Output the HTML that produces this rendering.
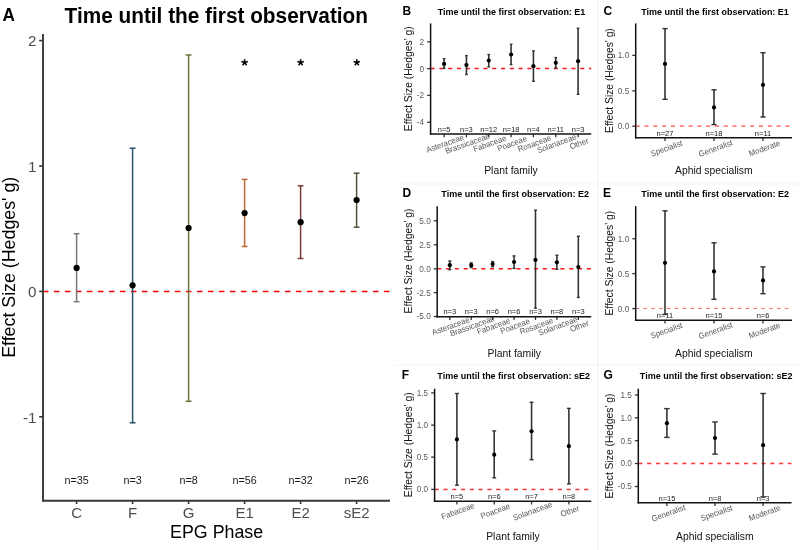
<!DOCTYPE html>
<html><head><meta charset="utf-8"><style>
html,body{margin:0;padding:0;background:#fff;}
body{width:800px;height:550px;overflow:hidden;}
svg{display:block;will-change:transform;font-family:"Liberation Sans", sans-serif;}
</style></head><body>
<svg width="800" height="550" viewBox="0 0 800 550">
<rect x="0" y="0" width="800" height="550" fill="#fff"/>
<line x1="598" y1="0" x2="598" y2="550" stroke="#f0f0f0" stroke-width="1"/>
<line x1="395" y1="184" x2="800" y2="184" stroke="#f3f3f3" stroke-width="1"/>
<line x1="395" y1="365" x2="800" y2="365" stroke="#f3f3f3" stroke-width="1"/>
<text font-size="17.2" text-anchor="start" font-weight="bold" fill="#000" transform="translate(2.40 21.00) scale(1.0 1.06)" >A</text>
<text font-size="20.8" text-anchor="middle" font-weight="bold" fill="#000" transform="translate(216.30 22.70) scale(1.0 1.06)" >Time until the first observation</text>
<line x1="42.90" y1="291.50" x2="389.70" y2="291.50" stroke="#ff0000" stroke-width="1.7" stroke-dasharray="5.55 5.45"/>
<line x1="39.20" y1="40.60" x2="43.00" y2="40.60" stroke="#333" stroke-width="1.6" />
<text font-size="15.2" text-anchor="end" fill="#4d4d4d" transform="translate(36.40 46.30) scale(1.0 1.0)" >2</text>
<line x1="39.20" y1="166.00" x2="43.00" y2="166.00" stroke="#333" stroke-width="1.6" />
<text font-size="15.2" text-anchor="end" fill="#4d4d4d" transform="translate(36.40 171.70) scale(1.0 1.0)" >1</text>
<line x1="39.20" y1="291.40" x2="43.00" y2="291.40" stroke="#333" stroke-width="1.6" />
<text font-size="15.2" text-anchor="end" fill="#4d4d4d" transform="translate(36.40 297.10) scale(1.0 1.0)" >0</text>
<line x1="39.20" y1="416.80" x2="43.00" y2="416.80" stroke="#333" stroke-width="1.6" />
<text font-size="15.2" text-anchor="end" fill="#4d4d4d" transform="translate(36.40 422.50) scale(1.0 1.0)" >-1</text>
<line x1="76.60" y1="233.70" x2="76.60" y2="301.70" stroke="#777777" stroke-width="1.5" />
<line x1="73.70" y1="233.70" x2="79.50" y2="233.70" stroke="#777777" stroke-width="1.5" />
<line x1="73.70" y1="301.70" x2="79.50" y2="301.70" stroke="#777777" stroke-width="1.5" />
<circle cx="76.60" cy="267.90" r="3.1" fill="#000"/>
<line x1="132.60" y1="148.20" x2="132.60" y2="422.80" stroke="#29506a" stroke-width="1.5" />
<line x1="129.70" y1="148.20" x2="135.50" y2="148.20" stroke="#29506a" stroke-width="1.5" />
<line x1="129.70" y1="422.80" x2="135.50" y2="422.80" stroke="#29506a" stroke-width="1.5" />
<circle cx="132.60" cy="285.30" r="3.1" fill="#000"/>
<line x1="188.60" y1="55.00" x2="188.60" y2="401.30" stroke="#68733f" stroke-width="1.5" />
<line x1="185.70" y1="55.00" x2="191.50" y2="55.00" stroke="#68733f" stroke-width="1.5" />
<line x1="185.70" y1="401.30" x2="191.50" y2="401.30" stroke="#68733f" stroke-width="1.5" />
<circle cx="188.60" cy="228.00" r="3.1" fill="#000"/>
<line x1="244.60" y1="179.40" x2="244.60" y2="246.50" stroke="#bb6835" stroke-width="1.5" />
<line x1="241.70" y1="179.40" x2="247.50" y2="179.40" stroke="#bb6835" stroke-width="1.5" />
<line x1="241.70" y1="246.50" x2="247.50" y2="246.50" stroke="#bb6835" stroke-width="1.5" />
<circle cx="244.60" cy="213.10" r="3.1" fill="#000"/>
<line x1="300.60" y1="185.80" x2="300.60" y2="258.50" stroke="#7a3c34" stroke-width="1.5" />
<line x1="297.70" y1="185.80" x2="303.50" y2="185.80" stroke="#7a3c34" stroke-width="1.5" />
<line x1="297.70" y1="258.50" x2="303.50" y2="258.50" stroke="#7a3c34" stroke-width="1.5" />
<circle cx="300.60" cy="222.20" r="3.1" fill="#000"/>
<line x1="356.60" y1="173.20" x2="356.60" y2="227.20" stroke="#4f5337" stroke-width="1.5" />
<line x1="353.70" y1="173.20" x2="359.50" y2="173.20" stroke="#4f5337" stroke-width="1.5" />
<line x1="353.70" y1="227.20" x2="359.50" y2="227.20" stroke="#4f5337" stroke-width="1.5" />
<circle cx="356.60" cy="200.00" r="3.1" fill="#000"/>
<path d="M244.60 62.60L244.60 59.25M244.60 62.60L247.79 61.56M244.60 62.60L241.41 61.56M244.60 62.60L242.63 65.31M244.60 62.60L246.57 65.31" stroke="#000" stroke-width="1.55" fill="none"/>
<path d="M300.60 62.60L300.60 59.25M300.60 62.60L303.79 61.56M300.60 62.60L297.41 61.56M300.60 62.60L298.63 65.31M300.60 62.60L302.57 65.31" stroke="#000" stroke-width="1.55" fill="none"/>
<path d="M356.80 62.60L356.80 59.25M356.80 62.60L359.99 61.56M356.80 62.60L353.61 61.56M356.80 62.60L354.83 65.31M356.80 62.60L358.77 65.31" stroke="#000" stroke-width="1.55" fill="none"/>
<text font-size="10.8" text-anchor="middle" fill="#1a1a1a" transform="translate(76.60 484.00) scale(1.0 1.06)" >n=35</text>
<line x1="76.60" y1="500.70" x2="76.60" y2="504.00" stroke="#333" stroke-width="1.6" />
<text font-size="15.0" text-anchor="middle" fill="#4d4d4d" transform="translate(76.60 518.30) scale(1.0 1.0)" >C</text>
<text font-size="10.8" text-anchor="middle" fill="#1a1a1a" transform="translate(132.60 484.00) scale(1.0 1.06)" >n=3</text>
<line x1="132.60" y1="500.70" x2="132.60" y2="504.00" stroke="#333" stroke-width="1.6" />
<text font-size="15.0" text-anchor="middle" fill="#4d4d4d" transform="translate(132.60 518.30) scale(1.0 1.0)" >F</text>
<text font-size="10.8" text-anchor="middle" fill="#1a1a1a" transform="translate(188.60 484.00) scale(1.0 1.06)" >n=8</text>
<line x1="188.60" y1="500.70" x2="188.60" y2="504.00" stroke="#333" stroke-width="1.6" />
<text font-size="15.0" text-anchor="middle" fill="#4d4d4d" transform="translate(188.60 518.30) scale(1.0 1.0)" >G</text>
<text font-size="10.8" text-anchor="middle" fill="#1a1a1a" transform="translate(244.60 484.00) scale(1.0 1.06)" >n=56</text>
<line x1="244.60" y1="500.70" x2="244.60" y2="504.00" stroke="#333" stroke-width="1.6" />
<text font-size="15.0" text-anchor="middle" fill="#4d4d4d" transform="translate(244.60 518.30) scale(1.0 1.0)" >E1</text>
<text font-size="10.8" text-anchor="middle" fill="#1a1a1a" transform="translate(300.60 484.00) scale(1.0 1.06)" >n=32</text>
<line x1="300.60" y1="500.70" x2="300.60" y2="504.00" stroke="#333" stroke-width="1.6" />
<text font-size="15.0" text-anchor="middle" fill="#4d4d4d" transform="translate(300.60 518.30) scale(1.0 1.0)" >E2</text>
<text font-size="10.8" text-anchor="middle" fill="#1a1a1a" transform="translate(356.60 484.00) scale(1.0 1.06)" >n=26</text>
<line x1="356.60" y1="500.70" x2="356.60" y2="504.00" stroke="#333" stroke-width="1.6" />
<text font-size="15.0" text-anchor="middle" fill="#4d4d4d" transform="translate(356.60 518.30) scale(1.0 1.0)" >sE2</text>
<line x1="43.00" y1="34.00" x2="43.00" y2="501.50" stroke="#383838" stroke-width="1.9" />
<line x1="42.10" y1="500.70" x2="390.00" y2="500.70" stroke="#383838" stroke-width="1.9" />
<text font-size="17.8" text-anchor="middle" fill="#000" transform="translate(216.60 537.70) scale(1.0 1.06)" >EPG Phase</text>
<text x="0" y="0" font-size="17.8" text-anchor="middle" fill="#000" transform="translate(15.1 267.3) rotate(-90) scale(1 1.06)">Effect Size (Hedges' g)</text>
<text font-size="12" text-anchor="start" font-weight="bold" fill="#000" transform="translate(402.50 14.60) scale(1.0 1.06)" >B</text>
<text font-size="9" text-anchor="middle" font-weight="bold" fill="#000" transform="translate(511.50 14.50) scale(1.0 1.06)" >Time until the first observation: E1</text>
<line x1="430.60" y1="68.50" x2="591.20" y2="68.50" stroke="#ff1a1a" stroke-width="1.5" stroke-dasharray="4.1 4.7"/>
<line x1="427.20" y1="41.80" x2="430.60" y2="41.80" stroke="#333" stroke-width="1.3" />
<text font-size="8.2" text-anchor="end" fill="#5a5a5a" transform="translate(424.10 44.75) scale(1.0 1.06)" >2</text>
<line x1="427.20" y1="68.60" x2="430.60" y2="68.60" stroke="#333" stroke-width="1.3" />
<text font-size="8.2" text-anchor="end" fill="#5a5a5a" transform="translate(424.10 71.55) scale(1.0 1.06)" >0</text>
<line x1="427.20" y1="95.40" x2="430.60" y2="95.40" stroke="#333" stroke-width="1.3" />
<text font-size="8.2" text-anchor="end" fill="#5a5a5a" transform="translate(424.10 98.35) scale(1.0 1.06)" >-2</text>
<line x1="427.20" y1="122.30" x2="430.60" y2="122.30" stroke="#333" stroke-width="1.3" />
<text font-size="8.2" text-anchor="end" fill="#5a5a5a" transform="translate(424.10 125.25) scale(1.0 1.06)" >-4</text>
<line x1="444.10" y1="58.70" x2="444.10" y2="68.40" stroke="#333" stroke-width="1.6" />
<line x1="442.75" y1="58.70" x2="445.45" y2="58.70" stroke="#333" stroke-width="1.4" />
<line x1="442.75" y1="68.40" x2="445.45" y2="68.40" stroke="#333" stroke-width="1.4" />
<circle cx="444.10" cy="63.90" r="2.1" fill="#000"/>
<line x1="466.43" y1="55.60" x2="466.43" y2="74.50" stroke="#333" stroke-width="1.6" />
<line x1="465.08" y1="55.60" x2="467.78" y2="55.60" stroke="#333" stroke-width="1.4" />
<line x1="465.08" y1="74.50" x2="467.78" y2="74.50" stroke="#333" stroke-width="1.4" />
<circle cx="466.43" cy="65.00" r="2.1" fill="#000"/>
<line x1="488.76" y1="54.50" x2="488.76" y2="66.80" stroke="#333" stroke-width="1.6" />
<line x1="487.41" y1="54.50" x2="490.11" y2="54.50" stroke="#333" stroke-width="1.4" />
<line x1="487.41" y1="66.80" x2="490.11" y2="66.80" stroke="#333" stroke-width="1.4" />
<circle cx="488.76" cy="60.50" r="2.1" fill="#000"/>
<line x1="511.09" y1="44.30" x2="511.09" y2="64.60" stroke="#333" stroke-width="1.6" />
<line x1="509.74" y1="44.30" x2="512.44" y2="44.30" stroke="#333" stroke-width="1.4" />
<line x1="509.74" y1="64.60" x2="512.44" y2="64.60" stroke="#333" stroke-width="1.4" />
<circle cx="511.09" cy="54.50" r="2.1" fill="#000"/>
<line x1="533.42" y1="50.90" x2="533.42" y2="81.30" stroke="#333" stroke-width="1.6" />
<line x1="532.07" y1="50.90" x2="534.77" y2="50.90" stroke="#333" stroke-width="1.4" />
<line x1="532.07" y1="81.30" x2="534.77" y2="81.30" stroke="#333" stroke-width="1.4" />
<circle cx="533.42" cy="66.20" r="2.1" fill="#000"/>
<line x1="555.75" y1="57.60" x2="555.75" y2="68.00" stroke="#333" stroke-width="1.6" />
<line x1="554.40" y1="57.60" x2="557.10" y2="57.60" stroke="#333" stroke-width="1.4" />
<line x1="554.40" y1="68.00" x2="557.10" y2="68.00" stroke="#333" stroke-width="1.4" />
<circle cx="555.75" cy="62.80" r="2.1" fill="#000"/>
<line x1="578.08" y1="28.30" x2="578.08" y2="94.30" stroke="#333" stroke-width="1.6" />
<line x1="576.73" y1="28.30" x2="579.43" y2="28.30" stroke="#333" stroke-width="1.4" />
<line x1="576.73" y1="94.30" x2="579.43" y2="94.30" stroke="#333" stroke-width="1.4" />
<circle cx="578.08" cy="61.20" r="2.1" fill="#000"/>
<text font-size="7.5" text-anchor="middle" fill="#1a1a1a" transform="translate(444.10 131.90) scale(1.0 1.06)" >n=5</text>
<line x1="444.10" y1="134.10" x2="444.10" y2="137.30" stroke="#333" stroke-width="1.3" />
<text x="0" y="0" font-size="7.8" text-anchor="middle" fill="#555" transform="translate(445.10 143.50) rotate(-20) translate(0 2.8) scale(1 1.06)">Asteraceae</text>
<text font-size="7.5" text-anchor="middle" fill="#1a1a1a" transform="translate(466.43 131.90) scale(1.0 1.06)" >n=3</text>
<line x1="466.43" y1="134.10" x2="466.43" y2="137.30" stroke="#333" stroke-width="1.3" />
<text x="0" y="0" font-size="7.8" text-anchor="middle" fill="#555" transform="translate(467.43 143.50) rotate(-20) translate(0 2.8) scale(1 1.06)">Brassicaceae</text>
<text font-size="7.5" text-anchor="middle" fill="#1a1a1a" transform="translate(488.76 131.90) scale(1.0 1.06)" >n=12</text>
<line x1="488.76" y1="134.10" x2="488.76" y2="137.30" stroke="#333" stroke-width="1.3" />
<text x="0" y="0" font-size="7.8" text-anchor="middle" fill="#555" transform="translate(489.76 143.50) rotate(-20) translate(0 2.8) scale(1 1.06)">Fabaceae</text>
<text font-size="7.5" text-anchor="middle" fill="#1a1a1a" transform="translate(511.09 131.90) scale(1.0 1.06)" >n=18</text>
<line x1="511.09" y1="134.10" x2="511.09" y2="137.30" stroke="#333" stroke-width="1.3" />
<text x="0" y="0" font-size="7.8" text-anchor="middle" fill="#555" transform="translate(512.09 143.50) rotate(-20) translate(0 2.8) scale(1 1.06)">Poaceae</text>
<text font-size="7.5" text-anchor="middle" fill="#1a1a1a" transform="translate(533.42 131.90) scale(1.0 1.06)" >n=4</text>
<line x1="533.42" y1="134.10" x2="533.42" y2="137.30" stroke="#333" stroke-width="1.3" />
<text x="0" y="0" font-size="7.8" text-anchor="middle" fill="#555" transform="translate(534.42 143.50) rotate(-20) translate(0 2.8) scale(1 1.06)">Rosaceae</text>
<text font-size="7.5" text-anchor="middle" fill="#1a1a1a" transform="translate(555.75 131.90) scale(1.0 1.06)" >n=11</text>
<line x1="555.75" y1="134.10" x2="555.75" y2="137.30" stroke="#333" stroke-width="1.3" />
<text x="0" y="0" font-size="7.8" text-anchor="middle" fill="#555" transform="translate(556.75 143.50) rotate(-20) translate(0 2.8) scale(1 1.06)">Solanaceae</text>
<text font-size="7.5" text-anchor="middle" fill="#1a1a1a" transform="translate(578.08 131.90) scale(1.0 1.06)" >n=3</text>
<line x1="578.08" y1="134.10" x2="578.08" y2="137.30" stroke="#333" stroke-width="1.3" />
<text x="0" y="0" font-size="7.8" text-anchor="middle" fill="#555" transform="translate(579.08 143.50) rotate(-20) translate(0 2.8) scale(1 1.06)">Other</text>
<line x1="430.60" y1="23.40" x2="430.60" y2="134.80" stroke="#111" stroke-width="1.5" />
<line x1="429.90" y1="134.10" x2="591.20" y2="134.10" stroke="#111" stroke-width="1.5" />
<text font-size="10.35" text-anchor="middle" fill="#111" transform="translate(510.90 174.40) scale(1.0 1.06)" >Plant family</text>
<text x="0" y="0" font-size="10.3" text-anchor="middle" fill="#111" transform="translate(411.90 78.75) rotate(-90) scale(1 1.06)">Effect Size (Hedges' g)</text>
<text font-size="12" text-anchor="start" font-weight="bold" fill="#000" transform="translate(603.40 14.60) scale(1.0 1.06)" >C</text>
<text font-size="9" text-anchor="middle" font-weight="bold" fill="#000" transform="translate(715.00 14.50) scale(1.0 1.06)" >Time until the first observation: E1</text>
<line x1="635.70" y1="126.10" x2="792.00" y2="126.10" stroke="#ff4d4d" stroke-width="1.4" stroke-dasharray="4.1 4.7"/>
<line x1="632.30" y1="126.20" x2="635.70" y2="126.20" stroke="#333" stroke-width="1.3" />
<text font-size="8.2" text-anchor="end" fill="#5a5a5a" transform="translate(629.20 129.15) scale(1.0 1.06)" >0.0</text>
<line x1="632.30" y1="90.90" x2="635.70" y2="90.90" stroke="#333" stroke-width="1.3" />
<text font-size="8.2" text-anchor="end" fill="#5a5a5a" transform="translate(629.20 93.85) scale(1.0 1.06)" >0.5</text>
<line x1="632.30" y1="55.40" x2="635.70" y2="55.40" stroke="#333" stroke-width="1.3" />
<text font-size="8.2" text-anchor="end" fill="#5a5a5a" transform="translate(629.20 58.35) scale(1.0 1.06)" >1.0</text>
<line x1="665.00" y1="28.60" x2="665.00" y2="99.30" stroke="#333" stroke-width="1.6" />
<line x1="662.40" y1="28.60" x2="667.60" y2="28.60" stroke="#333" stroke-width="1.4" />
<line x1="662.40" y1="99.30" x2="667.60" y2="99.30" stroke="#333" stroke-width="1.4" />
<circle cx="665.00" cy="63.90" r="2.1" fill="#000"/>
<line x1="714.00" y1="89.80" x2="714.00" y2="124.60" stroke="#333" stroke-width="1.6" />
<line x1="711.40" y1="89.80" x2="716.60" y2="89.80" stroke="#333" stroke-width="1.4" />
<line x1="711.40" y1="124.60" x2="716.60" y2="124.60" stroke="#333" stroke-width="1.4" />
<circle cx="714.00" cy="107.40" r="2.1" fill="#000"/>
<line x1="763.00" y1="52.70" x2="763.00" y2="117.00" stroke="#333" stroke-width="1.6" />
<line x1="760.40" y1="52.70" x2="765.60" y2="52.70" stroke="#333" stroke-width="1.4" />
<line x1="760.40" y1="117.00" x2="765.60" y2="117.00" stroke="#333" stroke-width="1.4" />
<circle cx="763.00" cy="84.90" r="2.1" fill="#000"/>
<text font-size="7.5" text-anchor="middle" fill="#1a1a1a" transform="translate(665.00 135.60) scale(1.0 1.06)" >n=27</text>
<line x1="665.00" y1="137.70" x2="665.00" y2="140.90" stroke="#333" stroke-width="1.3" />
<text x="0" y="0" font-size="7.8" text-anchor="middle" fill="#555" transform="translate(666.50 148.30) rotate(-20) translate(0 2.8) scale(1 1.06)">Specialist</text>
<text font-size="7.5" text-anchor="middle" fill="#1a1a1a" transform="translate(714.00 135.60) scale(1.0 1.06)" >n=18</text>
<line x1="714.00" y1="137.70" x2="714.00" y2="140.90" stroke="#333" stroke-width="1.3" />
<text x="0" y="0" font-size="7.8" text-anchor="middle" fill="#555" transform="translate(715.50 148.30) rotate(-20) translate(0 2.8) scale(1 1.06)">Generalist</text>
<text font-size="7.5" text-anchor="middle" fill="#1a1a1a" transform="translate(763.00 135.60) scale(1.0 1.06)" >n=11</text>
<line x1="763.00" y1="137.70" x2="763.00" y2="140.90" stroke="#333" stroke-width="1.3" />
<text x="0" y="0" font-size="7.8" text-anchor="middle" fill="#555" transform="translate(764.50 148.30) rotate(-20) translate(0 2.8) scale(1 1.06)">Moderate</text>
<line x1="635.70" y1="23.40" x2="635.70" y2="138.40" stroke="#111" stroke-width="1.5" />
<line x1="635.00" y1="137.70" x2="792.00" y2="137.70" stroke="#111" stroke-width="1.5" />
<text font-size="10.35" text-anchor="middle" fill="#111" transform="translate(713.80 174.40) scale(1.0 1.06)" >Aphid specialism</text>
<text x="0" y="0" font-size="10.3" text-anchor="middle" fill="#111" transform="translate(612.90 80.60) rotate(-90) scale(1 1.06)">Effect Size (Hedges' g)</text>
<text font-size="12" text-anchor="start" font-weight="bold" fill="#000" transform="translate(402.40 196.80) scale(1.0 1.06)" >D</text>
<text font-size="9" text-anchor="middle" font-weight="bold" fill="#000" transform="translate(515.20 196.70) scale(1.0 1.06)" >Time until the first observation: E2</text>
<line x1="437.20" y1="268.70" x2="591.20" y2="268.70" stroke="#ff1a1a" stroke-width="1.5" stroke-dasharray="4.1 4.7"/>
<line x1="433.80" y1="220.80" x2="437.20" y2="220.80" stroke="#333" stroke-width="1.3" />
<text font-size="8.2" text-anchor="end" fill="#5a5a5a" transform="translate(430.70 223.75) scale(1.0 1.06)" >5.0</text>
<line x1="433.80" y1="244.80" x2="437.20" y2="244.80" stroke="#333" stroke-width="1.3" />
<text font-size="8.2" text-anchor="end" fill="#5a5a5a" transform="translate(430.70 247.75) scale(1.0 1.06)" >2.5</text>
<line x1="433.80" y1="268.80" x2="437.20" y2="268.80" stroke="#333" stroke-width="1.3" />
<text font-size="8.2" text-anchor="end" fill="#5a5a5a" transform="translate(430.70 271.75) scale(1.0 1.06)" >0.0</text>
<line x1="433.80" y1="292.60" x2="437.20" y2="292.60" stroke="#333" stroke-width="1.3" />
<text font-size="8.2" text-anchor="end" fill="#5a5a5a" transform="translate(430.70 295.55) scale(1.0 1.06)" >-2.5</text>
<line x1="433.80" y1="316.50" x2="437.20" y2="316.50" stroke="#333" stroke-width="1.3" />
<text font-size="8.2" text-anchor="end" fill="#5a5a5a" transform="translate(430.70 319.45) scale(1.0 1.06)" >-5.0</text>
<line x1="449.80" y1="261.00" x2="449.80" y2="269.70" stroke="#333" stroke-width="1.6" />
<line x1="448.30" y1="261.00" x2="451.30" y2="261.00" stroke="#333" stroke-width="1.4" />
<line x1="448.30" y1="269.70" x2="451.30" y2="269.70" stroke="#333" stroke-width="1.4" />
<circle cx="449.80" cy="265.20" r="2.1" fill="#000"/>
<line x1="471.22" y1="262.90" x2="471.22" y2="267.60" stroke="#333" stroke-width="1.6" />
<line x1="469.72" y1="262.90" x2="472.72" y2="262.90" stroke="#333" stroke-width="1.4" />
<line x1="469.72" y1="267.60" x2="472.72" y2="267.60" stroke="#333" stroke-width="1.4" />
<circle cx="471.22" cy="265.20" r="2.1" fill="#000"/>
<line x1="492.64" y1="261.60" x2="492.64" y2="266.70" stroke="#333" stroke-width="1.6" />
<line x1="491.14" y1="261.60" x2="494.14" y2="261.60" stroke="#333" stroke-width="1.4" />
<line x1="491.14" y1="266.70" x2="494.14" y2="266.70" stroke="#333" stroke-width="1.4" />
<circle cx="492.64" cy="264.00" r="2.1" fill="#000"/>
<line x1="514.06" y1="255.90" x2="514.06" y2="268.40" stroke="#333" stroke-width="1.6" />
<line x1="512.56" y1="255.90" x2="515.56" y2="255.90" stroke="#333" stroke-width="1.4" />
<line x1="512.56" y1="268.40" x2="515.56" y2="268.40" stroke="#333" stroke-width="1.4" />
<circle cx="514.06" cy="262.00" r="2.1" fill="#000"/>
<line x1="535.48" y1="210.20" x2="535.48" y2="308.20" stroke="#333" stroke-width="1.6" />
<line x1="533.98" y1="210.20" x2="536.98" y2="210.20" stroke="#333" stroke-width="1.4" />
<line x1="533.98" y1="308.20" x2="536.98" y2="308.20" stroke="#333" stroke-width="1.4" />
<circle cx="535.48" cy="259.90" r="2.1" fill="#000"/>
<line x1="556.90" y1="255.20" x2="556.90" y2="269.30" stroke="#333" stroke-width="1.6" />
<line x1="555.40" y1="255.20" x2="558.40" y2="255.20" stroke="#333" stroke-width="1.4" />
<line x1="555.40" y1="269.30" x2="558.40" y2="269.30" stroke="#333" stroke-width="1.4" />
<circle cx="556.90" cy="262.30" r="2.1" fill="#000"/>
<line x1="578.32" y1="236.30" x2="578.32" y2="297.40" stroke="#333" stroke-width="1.6" />
<line x1="576.82" y1="236.30" x2="579.82" y2="236.30" stroke="#333" stroke-width="1.4" />
<line x1="576.82" y1="297.40" x2="579.82" y2="297.40" stroke="#333" stroke-width="1.4" />
<circle cx="578.32" cy="267.10" r="2.1" fill="#000"/>
<text font-size="7.5" text-anchor="middle" fill="#1a1a1a" transform="translate(449.80 314.00) scale(1.0 1.06)" >n=3</text>
<line x1="449.80" y1="316.80" x2="449.80" y2="320.00" stroke="#333" stroke-width="1.3" />
<text x="0" y="0" font-size="7.8" text-anchor="middle" fill="#555" transform="translate(450.80 326.00) rotate(-20) translate(0 2.8) scale(1 1.06)">Asteraceae</text>
<text font-size="7.5" text-anchor="middle" fill="#1a1a1a" transform="translate(471.22 314.00) scale(1.0 1.06)" >n=3</text>
<line x1="471.22" y1="316.80" x2="471.22" y2="320.00" stroke="#333" stroke-width="1.3" />
<text x="0" y="0" font-size="7.8" text-anchor="middle" fill="#555" transform="translate(472.22 326.00) rotate(-20) translate(0 2.8) scale(1 1.06)">Brassicaceae</text>
<text font-size="7.5" text-anchor="middle" fill="#1a1a1a" transform="translate(492.64 314.00) scale(1.0 1.06)" >n=6</text>
<line x1="492.64" y1="316.80" x2="492.64" y2="320.00" stroke="#333" stroke-width="1.3" />
<text x="0" y="0" font-size="7.8" text-anchor="middle" fill="#555" transform="translate(493.64 326.00) rotate(-20) translate(0 2.8) scale(1 1.06)">Fabaceae</text>
<text font-size="7.5" text-anchor="middle" fill="#1a1a1a" transform="translate(514.06 314.00) scale(1.0 1.06)" >n=6</text>
<line x1="514.06" y1="316.80" x2="514.06" y2="320.00" stroke="#333" stroke-width="1.3" />
<text x="0" y="0" font-size="7.8" text-anchor="middle" fill="#555" transform="translate(515.06 326.00) rotate(-20) translate(0 2.8) scale(1 1.06)">Poaceae</text>
<text font-size="7.5" text-anchor="middle" fill="#1a1a1a" transform="translate(535.48 314.00) scale(1.0 1.06)" >n=3</text>
<line x1="535.48" y1="316.80" x2="535.48" y2="320.00" stroke="#333" stroke-width="1.3" />
<text x="0" y="0" font-size="7.8" text-anchor="middle" fill="#555" transform="translate(536.48 326.00) rotate(-20) translate(0 2.8) scale(1 1.06)">Rosaceae</text>
<text font-size="7.5" text-anchor="middle" fill="#1a1a1a" transform="translate(556.90 314.00) scale(1.0 1.06)" >n=8</text>
<line x1="556.90" y1="316.80" x2="556.90" y2="320.00" stroke="#333" stroke-width="1.3" />
<text x="0" y="0" font-size="7.8" text-anchor="middle" fill="#555" transform="translate(557.90 326.00) rotate(-20) translate(0 2.8) scale(1 1.06)">Solanaceae</text>
<text font-size="7.5" text-anchor="middle" fill="#1a1a1a" transform="translate(578.32 314.00) scale(1.0 1.06)" >n=3</text>
<line x1="578.32" y1="316.80" x2="578.32" y2="320.00" stroke="#333" stroke-width="1.3" />
<text x="0" y="0" font-size="7.8" text-anchor="middle" fill="#555" transform="translate(579.32 326.00) rotate(-20) translate(0 2.8) scale(1 1.06)">Other</text>
<line x1="437.20" y1="206.20" x2="437.20" y2="317.50" stroke="#111" stroke-width="1.5" />
<line x1="436.50" y1="316.80" x2="591.20" y2="316.80" stroke="#111" stroke-width="1.5" />
<text font-size="10.35" text-anchor="middle" fill="#111" transform="translate(514.20 357.20) scale(1.0 1.06)" >Plant family</text>
<text x="0" y="0" font-size="10.3" text-anchor="middle" fill="#111" transform="translate(411.90 261.00) rotate(-90) scale(1 1.06)">Effect Size (Hedges' g)</text>
<text font-size="12" text-anchor="start" font-weight="bold" fill="#000" transform="translate(603.10 196.80) scale(1.0 1.06)" >E</text>
<text font-size="9" text-anchor="middle" font-weight="bold" fill="#000" transform="translate(715.20 196.70) scale(1.0 1.06)" >Time until the first observation: E2</text>
<line x1="635.70" y1="308.50" x2="792.00" y2="308.50" stroke="#f26a6a" stroke-width="1.1" stroke-dasharray="3.4 4.45"/>
<line x1="632.30" y1="308.60" x2="635.70" y2="308.60" stroke="#333" stroke-width="1.3" />
<text font-size="8.2" text-anchor="end" fill="#5a5a5a" transform="translate(629.20 311.55) scale(1.0 1.06)" >0.0</text>
<line x1="632.30" y1="273.60" x2="635.70" y2="273.60" stroke="#333" stroke-width="1.3" />
<text font-size="8.2" text-anchor="end" fill="#5a5a5a" transform="translate(629.20 276.55) scale(1.0 1.06)" >0.5</text>
<line x1="632.30" y1="238.70" x2="635.70" y2="238.70" stroke="#333" stroke-width="1.3" />
<text font-size="8.2" text-anchor="end" fill="#5a5a5a" transform="translate(629.20 241.65) scale(1.0 1.06)" >1.0</text>
<line x1="665.00" y1="210.80" x2="665.00" y2="314.40" stroke="#333" stroke-width="1.6" />
<line x1="662.40" y1="210.80" x2="667.60" y2="210.80" stroke="#333" stroke-width="1.4" />
<line x1="662.40" y1="314.40" x2="667.60" y2="314.40" stroke="#333" stroke-width="1.4" />
<circle cx="665.00" cy="262.80" r="2.1" fill="#000"/>
<line x1="714.00" y1="242.80" x2="714.00" y2="299.30" stroke="#333" stroke-width="1.6" />
<line x1="711.40" y1="242.80" x2="716.60" y2="242.80" stroke="#333" stroke-width="1.4" />
<line x1="711.40" y1="299.30" x2="716.60" y2="299.30" stroke="#333" stroke-width="1.4" />
<circle cx="714.00" cy="271.40" r="2.1" fill="#000"/>
<line x1="763.00" y1="266.90" x2="763.00" y2="293.70" stroke="#333" stroke-width="1.6" />
<line x1="760.40" y1="266.90" x2="765.60" y2="266.90" stroke="#333" stroke-width="1.4" />
<line x1="760.40" y1="293.70" x2="765.60" y2="293.70" stroke="#333" stroke-width="1.4" />
<circle cx="763.00" cy="280.40" r="2.1" fill="#000"/>
<text font-size="7.5" text-anchor="middle" fill="#1a1a1a" transform="translate(665.00 318.00) scale(1.0 1.06)" >n=11</text>
<line x1="665.00" y1="320.20" x2="665.00" y2="323.40" stroke="#333" stroke-width="1.3" />
<text x="0" y="0" font-size="7.8" text-anchor="middle" fill="#555" transform="translate(666.50 330.50) rotate(-20) translate(0 2.8) scale(1 1.06)">Specialist</text>
<text font-size="7.5" text-anchor="middle" fill="#1a1a1a" transform="translate(714.00 318.00) scale(1.0 1.06)" >n=15</text>
<line x1="714.00" y1="320.20" x2="714.00" y2="323.40" stroke="#333" stroke-width="1.3" />
<text x="0" y="0" font-size="7.8" text-anchor="middle" fill="#555" transform="translate(715.50 330.50) rotate(-20) translate(0 2.8) scale(1 1.06)">Generalist</text>
<text font-size="7.5" text-anchor="middle" fill="#1a1a1a" transform="translate(763.00 318.00) scale(1.0 1.06)" >n=6</text>
<line x1="763.00" y1="320.20" x2="763.00" y2="323.40" stroke="#333" stroke-width="1.3" />
<text x="0" y="0" font-size="7.8" text-anchor="middle" fill="#555" transform="translate(764.50 330.50) rotate(-20) translate(0 2.8) scale(1 1.06)">Moderate</text>
<line x1="635.70" y1="206.10" x2="635.70" y2="320.90" stroke="#111" stroke-width="1.5" />
<line x1="635.00" y1="320.20" x2="792.00" y2="320.20" stroke="#111" stroke-width="1.5" />
<text font-size="10.35" text-anchor="middle" fill="#111" transform="translate(713.80 356.90) scale(1.0 1.06)" >Aphid specialism</text>
<text x="0" y="0" font-size="10.3" text-anchor="middle" fill="#111" transform="translate(612.90 263.20) rotate(-90) scale(1 1.06)">Effect Size (Hedges' g)</text>
<text font-size="12" text-anchor="start" font-weight="bold" fill="#000" transform="translate(401.80 379.20) scale(1.0 1.06)" >F</text>
<text font-size="9" text-anchor="middle" font-weight="bold" fill="#000" transform="translate(513.70 379.10) scale(1.0 1.06)" >Time until the first observation: sE2</text>
<line x1="434.60" y1="489.60" x2="591.20" y2="489.60" stroke="#ff3535" stroke-width="1.5" stroke-dasharray="4.1 4.7"/>
<line x1="431.20" y1="489.40" x2="434.60" y2="489.40" stroke="#333" stroke-width="1.3" />
<text font-size="8.2" text-anchor="end" fill="#5a5a5a" transform="translate(428.10 492.35) scale(1.0 1.06)" >0.0</text>
<line x1="431.20" y1="457.10" x2="434.60" y2="457.10" stroke="#333" stroke-width="1.3" />
<text font-size="8.2" text-anchor="end" fill="#5a5a5a" transform="translate(428.10 460.05) scale(1.0 1.06)" >0.5</text>
<line x1="431.20" y1="425.10" x2="434.60" y2="425.10" stroke="#333" stroke-width="1.3" />
<text font-size="8.2" text-anchor="end" fill="#5a5a5a" transform="translate(428.10 428.05) scale(1.0 1.06)" >1.0</text>
<line x1="431.20" y1="392.90" x2="434.60" y2="392.90" stroke="#333" stroke-width="1.3" />
<text font-size="8.2" text-anchor="end" fill="#5a5a5a" transform="translate(428.10 395.85) scale(1.0 1.06)" >1.5</text>
<line x1="456.90" y1="393.50" x2="456.90" y2="485.20" stroke="#333" stroke-width="1.6" />
<line x1="454.95" y1="393.50" x2="458.85" y2="393.50" stroke="#333" stroke-width="1.4" />
<line x1="454.95" y1="485.20" x2="458.85" y2="485.20" stroke="#333" stroke-width="1.4" />
<circle cx="456.90" cy="439.40" r="2.1" fill="#000"/>
<line x1="494.23" y1="430.90" x2="494.23" y2="477.80" stroke="#333" stroke-width="1.6" />
<line x1="492.28" y1="430.90" x2="496.18" y2="430.90" stroke="#333" stroke-width="1.4" />
<line x1="492.28" y1="477.80" x2="496.18" y2="477.80" stroke="#333" stroke-width="1.4" />
<circle cx="494.23" cy="454.70" r="2.1" fill="#000"/>
<line x1="531.56" y1="402.30" x2="531.56" y2="459.70" stroke="#333" stroke-width="1.6" />
<line x1="529.61" y1="402.30" x2="533.51" y2="402.30" stroke="#333" stroke-width="1.4" />
<line x1="529.61" y1="459.70" x2="533.51" y2="459.70" stroke="#333" stroke-width="1.4" />
<circle cx="531.56" cy="431.30" r="2.1" fill="#000"/>
<line x1="568.89" y1="408.40" x2="568.89" y2="483.90" stroke="#333" stroke-width="1.6" />
<line x1="566.94" y1="408.40" x2="570.84" y2="408.40" stroke="#333" stroke-width="1.4" />
<line x1="566.94" y1="483.90" x2="570.84" y2="483.90" stroke="#333" stroke-width="1.4" />
<circle cx="568.89" cy="446.20" r="2.1" fill="#000"/>
<text font-size="7.5" text-anchor="middle" fill="#1a1a1a" transform="translate(456.90 499.00) scale(1.0 1.06)" >n=5</text>
<line x1="456.90" y1="501.30" x2="456.90" y2="504.50" stroke="#333" stroke-width="1.3" />
<text x="0" y="0" font-size="7.8" text-anchor="middle" fill="#555" transform="translate(457.90 511.00) rotate(-20) translate(0 2.8) scale(1 1.06)">Fabaceae</text>
<text font-size="7.5" text-anchor="middle" fill="#1a1a1a" transform="translate(494.23 499.00) scale(1.0 1.06)" >n=6</text>
<line x1="494.23" y1="501.30" x2="494.23" y2="504.50" stroke="#333" stroke-width="1.3" />
<text x="0" y="0" font-size="7.8" text-anchor="middle" fill="#555" transform="translate(495.23 511.00) rotate(-20) translate(0 2.8) scale(1 1.06)">Poaceae</text>
<text font-size="7.5" text-anchor="middle" fill="#1a1a1a" transform="translate(531.56 499.00) scale(1.0 1.06)" >n=7</text>
<line x1="531.56" y1="501.30" x2="531.56" y2="504.50" stroke="#333" stroke-width="1.3" />
<text x="0" y="0" font-size="7.8" text-anchor="middle" fill="#555" transform="translate(532.56 511.00) rotate(-20) translate(0 2.8) scale(1 1.06)">Solanaceae</text>
<text font-size="7.5" text-anchor="middle" fill="#1a1a1a" transform="translate(568.89 499.00) scale(1.0 1.06)" >n=8</text>
<line x1="568.89" y1="501.30" x2="568.89" y2="504.50" stroke="#333" stroke-width="1.3" />
<text x="0" y="0" font-size="7.8" text-anchor="middle" fill="#555" transform="translate(569.89 511.00) rotate(-20) translate(0 2.8) scale(1 1.06)">Other</text>
<line x1="434.60" y1="388.70" x2="434.60" y2="502.00" stroke="#111" stroke-width="1.5" />
<line x1="433.90" y1="501.30" x2="591.20" y2="501.30" stroke="#111" stroke-width="1.5" />
<text font-size="10.35" text-anchor="middle" fill="#111" transform="translate(512.90 540.00) scale(1.0 1.06)" >Plant family</text>
<text x="0" y="0" font-size="10.3" text-anchor="middle" fill="#111" transform="translate(411.80 444.80) rotate(-90) scale(1 1.06)">Effect Size (Hedges' g)</text>
<text font-size="12" text-anchor="start" font-weight="bold" fill="#000" transform="translate(603.40 379.20) scale(1.0 1.06)" >G</text>
<text font-size="9" text-anchor="middle" font-weight="bold" fill="#000" transform="translate(716.20 379.10) scale(1.0 1.06)" >Time until the first observation: sE2</text>
<line x1="638.30" y1="463.40" x2="791.50" y2="463.40" stroke="#ff3535" stroke-width="1.5" stroke-dasharray="4.1 4.7"/>
<line x1="634.90" y1="486.50" x2="638.30" y2="486.50" stroke="#333" stroke-width="1.3" />
<text font-size="8.2" text-anchor="end" fill="#5a5a5a" transform="translate(631.80 489.45) scale(1.0 1.06)" >-0.5</text>
<line x1="634.90" y1="463.50" x2="638.30" y2="463.50" stroke="#333" stroke-width="1.3" />
<text font-size="8.2" text-anchor="end" fill="#5a5a5a" transform="translate(631.80 466.45) scale(1.0 1.06)" >0.0</text>
<line x1="634.90" y1="440.70" x2="638.30" y2="440.70" stroke="#333" stroke-width="1.3" />
<text font-size="8.2" text-anchor="end" fill="#5a5a5a" transform="translate(631.80 443.65) scale(1.0 1.06)" >0.5</text>
<line x1="634.90" y1="417.80" x2="638.30" y2="417.80" stroke="#333" stroke-width="1.3" />
<text font-size="8.2" text-anchor="end" fill="#5a5a5a" transform="translate(631.80 420.75) scale(1.0 1.06)" >1.0</text>
<line x1="634.90" y1="395.00" x2="638.30" y2="395.00" stroke="#333" stroke-width="1.3" />
<text font-size="8.2" text-anchor="end" fill="#5a5a5a" transform="translate(631.80 397.95) scale(1.0 1.06)" >1.5</text>
<line x1="666.90" y1="408.60" x2="666.90" y2="437.40" stroke="#333" stroke-width="1.6" />
<line x1="664.15" y1="408.60" x2="669.65" y2="408.60" stroke="#333" stroke-width="1.4" />
<line x1="664.15" y1="437.40" x2="669.65" y2="437.40" stroke="#333" stroke-width="1.4" />
<circle cx="666.90" cy="423.20" r="2.1" fill="#000"/>
<line x1="715.00" y1="422.00" x2="715.00" y2="454.10" stroke="#333" stroke-width="1.6" />
<line x1="712.25" y1="422.00" x2="717.75" y2="422.00" stroke="#333" stroke-width="1.4" />
<line x1="712.25" y1="454.10" x2="717.75" y2="454.10" stroke="#333" stroke-width="1.4" />
<circle cx="715.00" cy="438.10" r="2.1" fill="#000"/>
<line x1="763.10" y1="393.50" x2="763.10" y2="496.90" stroke="#333" stroke-width="1.6" />
<line x1="760.35" y1="393.50" x2="765.85" y2="393.50" stroke="#333" stroke-width="1.4" />
<line x1="760.35" y1="496.90" x2="765.85" y2="496.90" stroke="#333" stroke-width="1.4" />
<circle cx="763.10" cy="445.20" r="2.1" fill="#000"/>
<text font-size="7.5" text-anchor="middle" fill="#1a1a1a" transform="translate(666.90 500.60) scale(1.0 1.06)" >n=15</text>
<line x1="666.90" y1="502.80" x2="666.90" y2="506.00" stroke="#333" stroke-width="1.3" />
<text x="0" y="0" font-size="7.8" text-anchor="middle" fill="#555" transform="translate(668.40 513.00) rotate(-20) translate(0 2.8) scale(1 1.06)">Generalist</text>
<text font-size="7.5" text-anchor="middle" fill="#1a1a1a" transform="translate(715.00 500.60) scale(1.0 1.06)" >n=8</text>
<line x1="715.00" y1="502.80" x2="715.00" y2="506.00" stroke="#333" stroke-width="1.3" />
<text x="0" y="0" font-size="7.8" text-anchor="middle" fill="#555" transform="translate(716.50 513.00) rotate(-20) translate(0 2.8) scale(1 1.06)">Specialist</text>
<text font-size="7.5" text-anchor="middle" fill="#1a1a1a" transform="translate(763.10 500.60) scale(1.0 1.06)" >n=3</text>
<line x1="763.10" y1="502.80" x2="763.10" y2="506.00" stroke="#333" stroke-width="1.3" />
<text x="0" y="0" font-size="7.8" text-anchor="middle" fill="#555" transform="translate(764.60 513.00) rotate(-20) translate(0 2.8) scale(1 1.06)">Moderate</text>
<line x1="638.30" y1="388.70" x2="638.30" y2="503.50" stroke="#111" stroke-width="1.5" />
<line x1="637.60" y1="502.80" x2="791.50" y2="502.80" stroke="#111" stroke-width="1.5" />
<text font-size="10.35" text-anchor="middle" fill="#111" transform="translate(714.80 540.00) scale(1.0 1.06)" >Aphid specialism</text>
<text x="0" y="0" font-size="10.3" text-anchor="middle" fill="#111" transform="translate(613.00 446.00) rotate(-90) scale(1 1.06)">Effect Size (Hedges' g)</text>
</svg>
</body></html>
